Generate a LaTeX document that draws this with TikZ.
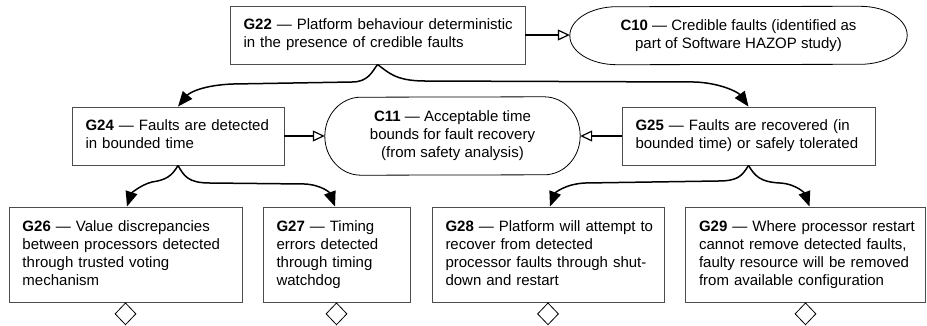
\documentclass[tikz,border=0pt]{standalone}
\usepackage{fontspec}
\setmainfont{Liberation Sans}
\usetikzlibrary{arrows.meta,shapes.geometric}
\newcommand{\gtext}[1]{\begin{tabular}{@{}l@{}}#1\end{tabular}}
\begin{document}
\begin{tikzpicture}[x=1pt,y=1pt,
  every node/.style={font=\fontsize{15}{18}\selectfont},
  goal/.style={draw=black!70, line width=0.9pt, fill=white, align=left, inner xsep=13.5pt, inner ysep=0pt, text width=#1},
  ctx/.style={align=center, inner sep=0pt},
  ctxline/.style={draw=black, line width=0.8pt},
  supp/.style={line width=1.5pt, -{Triangle[length=15pt,width=12pt]}},
  incx/.style={line width=1.5pt, -{Triangle[open,length=12pt,width=11pt,line width=1.2pt]}},
  und/.style={draw, diamond, line width=0.8pt, minimum width=21pt, minimum height=22pt, inner sep=0pt, fill=white, anchor=north},
]
\fill[white] (0,0) rectangle (927,-325);
\useasboundingbox (0,0) rectangle (927,-325);

% goals
\node[goal=268pt, minimum height=58pt] (g22) at (377.5,-35) {\gtext{\textbf{G22} — Platform behaviour deterministic\\in the presence of credible faults}};
\node[goal=185pt, minimum height=58pt] (g24) at (178,-136) {\gtext{\textbf{G24} — Faults are detected\\in bounded time}};
\node[goal=226pt, minimum height=58pt] (g25) at (748.5,-136) {\gtext{\textbf{G25} — Faults are recovered (in\\bounded time) or safely tolerated}};
\node[goal=206pt, minimum height=95pt] (g26) at (125.5,-254.5) {\gtext{\textbf{G26} — Value discrepancies\\between processors detected\\through trusted voting\\mechanism}};
\node[goal=120pt, minimum height=95pt] (g27) at (336.5,-254.5) {\gtext{\textbf{G27} — Timing\\errors detected\\through timing\\watchdog}};
\node[goal=205pt, minimum height=95pt] (g28) at (548,-254.5) {\gtext{\textbf{G28} — Platform will attempt to\\recover from detected\\processor faults through shut-\\down and restart}};
\node[goal=213pt, minimum height=95pt] (g29) at (805.5,-254.5) {\gtext{\textbf{G29} — Where processor restart\\cannot remove detected faults,\\faulty resource will be removed\\from available configuration}};

% contexts
\node[ctx, minimum width=337pt, minimum height=58pt] (c10) at (738.5,-35.5) {\textbf{C10} — Credible faults (identified as\\part of Software HAZOP study)};
\draw[ctxline] ([xshift=-47pt]c10.north east) arc[start angle=90,end angle=-90,x radius=47pt,y radius=29pt] -- ([xshift=47pt]c10.south west) arc[start angle=270,end angle=90,x radius=47pt,y radius=29pt] -- cycle;
\node[ctx, minimum width=255pt, minimum height=78pt] (c11) at (452.5,-136) {\textbf{C11} — Acceptable time\\bounds for fault recovery\\(from safety analysis)};
\draw[ctxline] ([xshift=-36pt]c11.north east) arc[start angle=90,end angle=-90,x radius=36pt,y radius=39pt] -- ([xshift=36pt]c11.south west) arc[start angle=270,end angle=90,x radius=36pt,y radius=39pt] -- cycle;

% undeveloped diamonds
\node[und] (d26) at (g26.south) {};
\node[und] (d27) at (g27.south) {};
\node[und] (d28) at (g28.south) {};
\node[und] (d29) at (g29.south) {};

% in-context-of
\draw[incx] (g22.east) -- (g22.east -| c10.west);
\draw[incx] (g24.east) -- (c11.west);
\draw[incx] (g25.west) -- (c11.east);

% supported-by
\draw[supp] (g22.south) .. controls (372,-72) and (368,-82) .. (352,-82) -- (233,-84) .. controls (205,-85) and (190,-92) .. (g24.north);
\draw[supp] (g22.south) .. controls (388,-72) and (395,-81) .. (425,-81) -- (695,-82) .. controls (720,-83) and (738,-92) .. (g25.north);
\draw[supp] (g24.south) .. controls (172,-176) and (166,-180) .. (152,-182) .. controls (140,-185) and (131,-194) .. ([xshift=1.5pt]g26.north);
\draw[supp] (g24.south) .. controls (184,-176) and (188,-183) .. (210,-183) -- (305,-184) .. controls (322,-185) and (330,-193) .. ([xshift=-1.5pt]g27.north);
\draw[supp] (g25.south) .. controls (742,-176) and (738,-181) .. (718,-181) -- (585,-183) .. controls (565,-184) and (555,-193) .. ([xshift=2pt]g28.north);
\draw[supp] (g25.south) .. controls (755,-176) and (760,-182) .. (780,-183) .. controls (797,-184) and (805,-194) .. ([xshift=4pt]g29.north);
\end{tikzpicture}
\end{document}
